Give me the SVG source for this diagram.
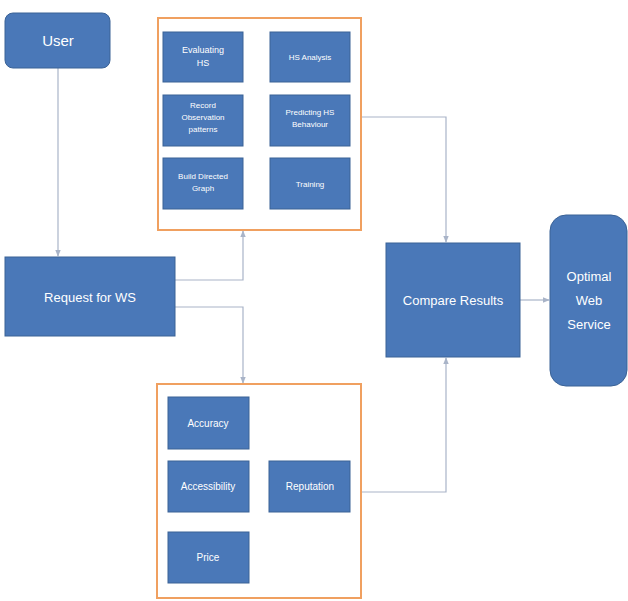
<svg xmlns="http://www.w3.org/2000/svg" width="628" height="601" viewBox="0 0 628 601">
<style>
.box{fill:#4a78b8;stroke:#3a6296;stroke-width:1}
.t{fill:#ffffff;font-family:"Liberation Sans",Arial,sans-serif;text-anchor:middle}
.cont{fill:#ffffff;stroke:#f0a060;stroke-width:2}
.conn{fill:none;stroke:#a9b4c8;stroke-width:1.2}
</style>
<defs>
<marker id="arr" viewBox="0 0 10 10" refX="9" refY="5" markerWidth="6" markerHeight="6" orient="auto">
<path d="M0,1 L10,5 L0,9 z" fill="#a9b4c8"/>
</marker>
</defs>
<rect width="628" height="601" fill="#ffffff"/>
<g id="connectors">
<path class="conn" d="M58,68 V256" marker-end="url(#arr)"/>
<path class="conn" d="M175,280 H243 V231" marker-end="url(#arr)"/>
<path class="conn" d="M175,307 H243 V383" marker-end="url(#arr)"/>
<path class="conn" d="M361,117 H446 V242" marker-end="url(#arr)"/>
<path class="conn" d="M361,492 H446 V358" marker-end="url(#arr)"/>
<path class="conn" d="M520,300 H549" marker-end="url(#arr)"/>
</g>
<g id="user">
<rect class="box" x="5" y="13" width="105" height="55" rx="8"/>
<text class="t" x="58" y="46" font-size="15">User</text>
</g>
<g id="request">
<rect class="box" x="5" y="257" width="170" height="79"/>
<text class="t" x="90" y="302" font-size="13">Request for WS</text>
</g>
<g id="top-group">
<rect class="cont" x="158" y="18" width="203" height="212"/>
<g id="evaluating">
<rect class="box" x="163" y="32" width="80" height="50"/>
<text class="t" x="203" y="53" font-size="9">Evaluating</text>
<text class="t" x="203" y="66" font-size="9">HS</text>
</g>
<g id="hs-analysis">
<rect class="box" x="270" y="32" width="80" height="50"/>
<text class="t" x="310" y="60" font-size="8">HS Analysis</text>
</g>
<g id="record">
<rect class="box" x="163" y="95" width="80" height="51"/>
<text class="t" x="203" y="108" font-size="8">Record</text>
<text class="t" x="203" y="120" font-size="8">Observation</text>
<text class="t" x="203" y="132" font-size="8">patterns</text>
</g>
<g id="predicting">
<rect class="box" x="270" y="95" width="80" height="51"/>
<text class="t" x="310" y="115" font-size="8">Predicting HS</text>
<text class="t" x="310" y="127" font-size="8">Behaviour</text>
</g>
<g id="build">
<rect class="box" x="163" y="158" width="80" height="51"/>
<text class="t" x="203" y="179" font-size="8">Build Directed</text>
<text class="t" x="203" y="191" font-size="8">Graph</text>
</g>
<g id="training">
<rect class="box" x="270" y="158" width="80" height="51"/>
<text class="t" x="310" y="187" font-size="8">Training</text>
</g>
</g>
<g id="bottom-group">
<rect class="cont" x="157" y="384" width="204" height="214"/>
<g id="accuracy">
<rect class="box" x="168" y="397" width="81" height="52"/>
<text class="t" x="208" y="427" font-size="10">Accuracy</text>
</g>
<g id="accessibility">
<rect class="box" x="168" y="461" width="81" height="51"/>
<text class="t" x="208" y="490" font-size="10">Accessibility</text>
</g>
<g id="reputation">
<rect class="box" x="269" y="461" width="81" height="51"/>
<text class="t" x="310" y="490" font-size="10">Reputation</text>
</g>
<g id="price">
<rect class="box" x="168" y="532" width="81" height="51"/>
<text class="t" x="208" y="561" font-size="10">Price</text>
</g>
</g>
<g id="compare">
<rect class="box" x="386" y="243" width="134" height="114"/>
<text class="t" x="453" y="305" font-size="13">Compare  Results</text>
</g>
<g id="optimal">
<rect class="box" x="550" y="215" width="77" height="171" rx="16"/>
<text class="t" x="589" y="281" font-size="13">Optimal</text>
<text class="t" x="589" y="305" font-size="13">Web</text>
<text class="t" x="589" y="329" font-size="13">Service</text>
</g>
</svg>
